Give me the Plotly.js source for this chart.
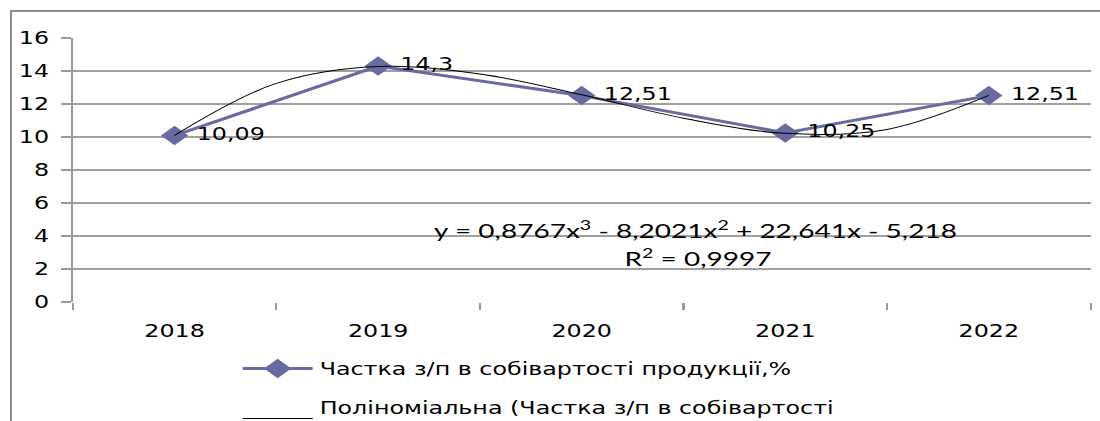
<!DOCTYPE html>
<html>
<head>
<meta charset="utf-8">
<script src="https://cdn.plot.ly/plotly-3.0.1.min.js"></script>
<style>
  body { margin: 0; background: #fff; overflow: hidden; }
  #frame {
    position: absolute; left: 10px; top: 10px; width: 1200px; height: 500px;
    border-left: 2px solid #8c8c8c; border-top: 2px solid #8c8c8c;
  }
  #chart {
    position: absolute; left: 0; top: 0; width: 786px; height: 421px;
    transform: scaleX(1.4); transform-origin: 0 0;
  }
</style>
</head>
<body>
<div id="frame"></div>
<div id="chart"></div>
<script>
const years = ['2018', '2019', '2020', '2021', '2022']
const share = [10.09, 14.3, 12.51, 10.25, 12.51]
const shareLabels = ['10,09', '14,3', '12,51', '10,25', '12,51']

// trendline at half-category steps
const trendX = [1, 1.5, 2, 2.5, 3, 3.5, 4, 4.5, 5]
const trendY = [10.1, 13.25, 14.27, 13.82, 12.56, 11.14, 10.22, 10.46, 12.52]

const pos = years.map((y, i) => i + 1)
const bounds = [0.5, 1.5, 2.5, 3.5, 4.5, 5.5]

const container = document.getElementById('chart')

const series = {
  name: 'Частка з/п в собівартості продукції,%',
  legendgroup: 'a',
  x: pos,
  y: share,
  text: shareLabels.map(s => '\u00a0' + s),
  type: 'scatter',
  mode: 'lines+markers+text',
  textposition: 'middle right',
  textfont: { family: 'DejaVu Sans', size: 17, color: '#000' },
  line: { color: '#6a6aa2', width: 3 },
  marker: { symbol: 'diamond', size: 15, color: '#6a6aa2' },
  cliponaxis: false
}

const trend = {
  name: 'Поліноміальна (Частка з/п в собівартості<br>продукції,%)',
  legendgroup: 'b',
  x: trendX,
  y: trendY,
  type: 'scatter',
  mode: 'lines',
  line: { color: '#000', width: 1, shape: 'spline' }
}

const layout = {
  width: 786,
  height: 421,
  margin: { l: 52, r: 7, t: 38, b: 119, autoexpand: false },
  paper_bgcolor: 'rgba(0,0,0,0)',
  plot_bgcolor: 'rgba(0,0,0,0)',
  font: { family: 'DejaVu Sans', size: 17, color: '#000' },
  showlegend: true,
  legend: {
    x: 0.16, xanchor: 'left', y: -0.185, yanchor: 'top',
    font: { family: 'DejaVu Sans', size: 17, color: '#000' },
    itemwidth: 50,
    tracegroupgap: 14,
    bgcolor: 'rgba(0,0,0,0)'
  },
  xaxis: {
    range: [0.5, 5.5],
    tickmode: 'array',
    tickvals: pos,
    ticktext: years,
    ticks: '',
    ticklabelstandoff: 17,
    showgrid: false,
    zeroline: false,
    showline: false,
    minor: { tickmode: 'array', tickvals: bounds, ticks: 'outside', ticklen: 7, tickwidth: 1.5, tickcolor: '#999' },
    fixedrange: true
  },
  yaxis: {
    range: [0, 16],
    tickvals: [0, 2, 4, 6, 8, 10, 12, 14, 16],
    ticks: 'outside',
    ticklen: 7,
    tickwidth: 1.5,
    tickcolor: '#999',
    ticklabelstandoff: 5,
    showgrid: true,
    gridcolor: '#a0a0a0',
    gridwidth: 1.5,
    zeroline: false,
    showline: true,
    linecolor: '#999',
    linewidth: 1.5,
    fixedrange: true
  },
  annotations: [
    {
      xref: 'x', yref: 'y', x: 3.56, y: 4.42, showarrow: false,
      text: 'y = 0,8767x<sup>3</sup> - 8,2021x<sup>2</sup> + 22,641x - 5,218',
      font: { family: 'Lato', size: 20, color: '#000' }
    },
    {
      xref: 'x', yref: 'y', x: 3.57, y: 2.73, showarrow: false,
      text: 'R<sup>2</sup> = 0,9997',
      font: { family: 'Lato', size: 20, color: '#000' }
    }
  ]
}

Plotly.newPlot(container, [series, trend], layout, { displayModeBar: false, staticPlot: true })
</script>
</body>
</html>
